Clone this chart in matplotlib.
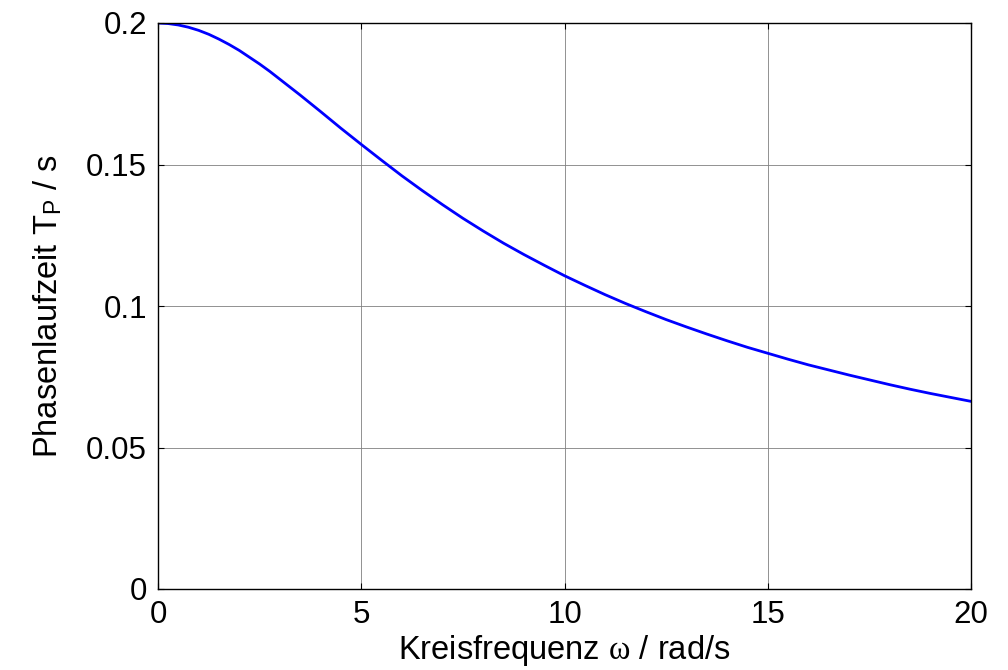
import matplotlib
matplotlib.use('Agg')
import matplotlib.pyplot as plt

# Kreisfrequenz omega / rad/s
omega = [0, 0.25, 0.5, 0.75, 1, 1.25, 1.5, 1.75, 2, 2.25, 2.5, 2.75, 3, 3.25,
         3.5, 3.75, 4, 4.5, 5, 5.5, 6, 6.5, 7, 7.5, 8, 8.5,
         9, 9.5, 10, 10.5, 11, 11.5, 12, 12.5, 13, 13.5, 14, 14.5, 15, 15.5,
         16, 16.5, 17, 17.5, 18, 18.5, 19, 19.5, 20]
# Phasenlaufzeit T_P / s
tp = [0.2000, 0.1998, 0.1993, 0.1985, 0.1974, 0.1960, 0.1943, 0.1924, 0.1903,
      0.1879, 0.1855, 0.1829, 0.1801, 0.1773, 0.1745, 0.1716, 0.1687,
      0.1628, 0.1571, 0.1515, 0.1460, 0.1408, 0.1358, 0.1310, 0.1265, 0.1222,
      0.1182, 0.1144, 0.1107, 0.1073, 0.1040, 0.1009, 0.0980, 0.0952, 0.0926,
      0.0901, 0.0877, 0.0854, 0.0833, 0.0812, 0.0792, 0.0774, 0.0756, 0.0739,
      0.0722, 0.0706, 0.0691, 0.0677, 0.0663]

xticks = [0, 5, 10, 15, 20]
yticks = [0, 0.05, 0.1, 0.15, 0.2]
yticklabels = ['0', '0.05', '0.1', '0.15', '0.2']

plt.rcParams['font.family'] = ['Liberation Sans', 'DejaVu Sans']
plt.rcParams['mathtext.fontset'] = 'custom'
plt.rcParams['mathtext.rm'] = 'Liberation Sans'
plt.rcParams['mathtext.it'] = 'Liberation Serif'

fs = 22.5
lfs = 23.5

fig = plt.figure(figsize=(10.08, 6.70), dpi=100)
ax = fig.add_axes([158/1008, 1-589/670, (971-158)/1008, (589-23)/670])

ax.plot(omega, tp, color='#0000ff', lw=2)

ax.set_xlim(0, 20)
ax.set_ylim(0, 0.2)
ax.set_xticks(xticks)
ax.set_yticks(yticks)
ax.set_yticklabels(yticklabels)
ax.tick_params(direction='in', length=4, width=0.8, top=True, right=True,
               labelsize=fs, pad=8)
ax.grid(True, color='#808080', lw=0.6)
for s in ax.spines.values():
    s.set_linewidth(1.0)

ax.set_xlabel('Kreisfrequenz $\\omega$ / rad/s', fontsize=lfs, labelpad=2)
ax.set_ylabel('Phasenlaufzeit T$_\\mathrm{P}$ / s', fontsize=lfs, labelpad=16)

fig.savefig('out.png', dpi=100)
